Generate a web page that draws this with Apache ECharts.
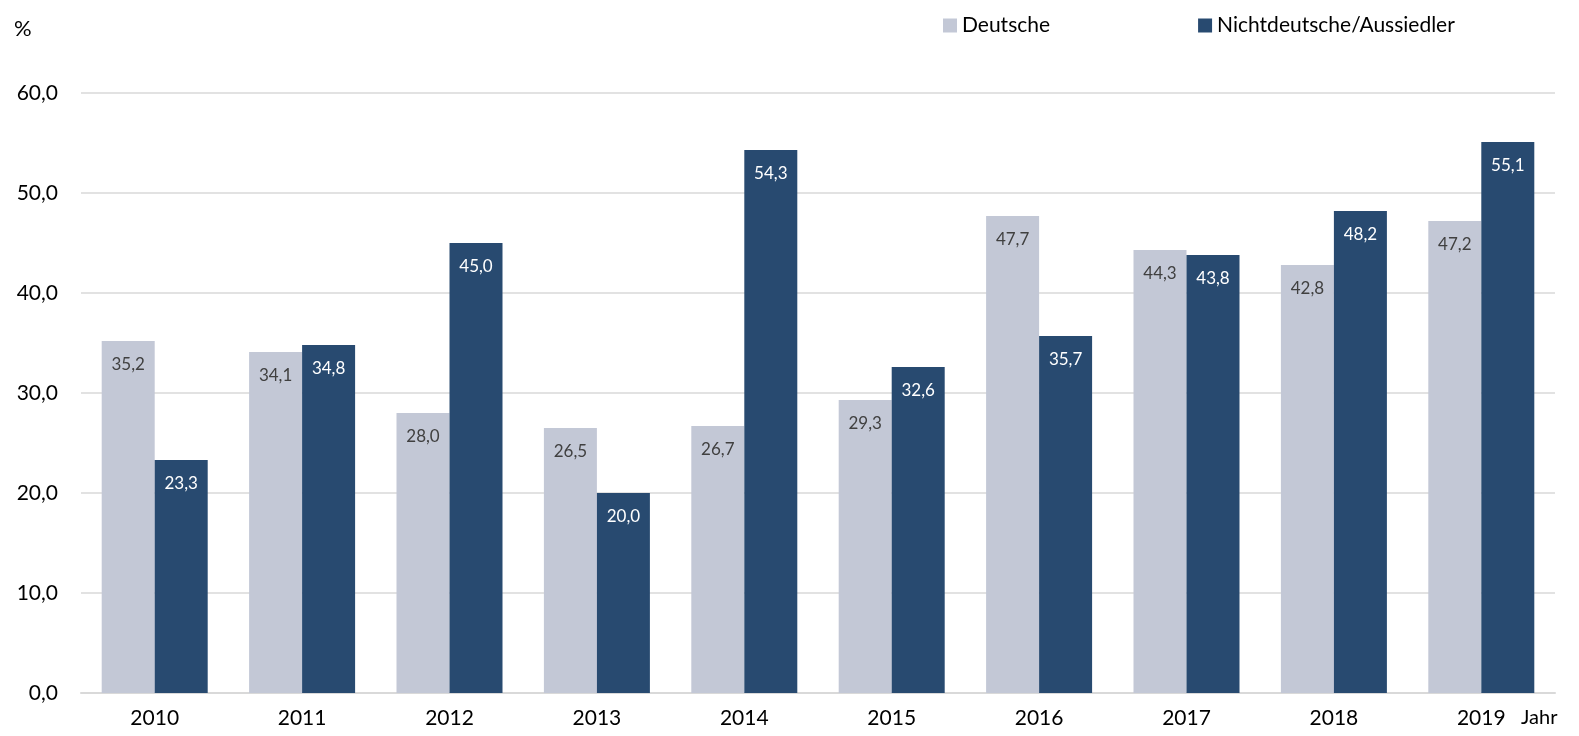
<!DOCTYPE html>
<html>
<head>
<meta charset="utf-8">
<script src="https://cdn.jsdelivr.net/npm/echarts@6/dist/echarts.min.js"></script>
<style>
  html, body { margin: 0; padding: 0; background: #fff; }
  #chart { width: 1579px; height: 736px; }
</style>
</head>
<body>
<div id="chart"></div>
<script>
var years = ['2010', '2011', '2012', '2013', '2014', '2015', '2016', '2017', '2018', '2019']
var deutsche = [35.2, 34.1, 28.0, 26.5, 26.7, 29.3, 47.7, 44.3, 42.8, 47.2]
var nichtdeutsche = [23.3, 34.8, 45.0, 20.0, 54.3, 32.6, 35.7, 43.8, 48.2, 55.1]

var fontFamily = 'Lato, "Open Sans", sans-serif'

function fmt(v) {
  return Number(v).toFixed(1).replace('.', ',')
}

var chart = echarts.init(document.getElementById('chart'))
chart.setOption({
  animation: false,
  textStyle: { fontFamily: fontFamily },
  grid: { left: 81, right: 24, top: 93, bottom: 43, containLabel: false },
  legend: {
    left: 938,
    top: 10,
    itemWidth: 14,
    itemHeight: 14,
    itemGap: 148,
    icon: 'rect',
    textStyle: { fontSize: 21, color: '#000', fontFamily: fontFamily },
    data: ['Deutsche', 'Nichtdeutsche/Aussiedler']
  },
  graphic: [
    { type: 'text', left: 14, top: 18, style: { text: '%', fontSize: 22, fill: '#000', fontFamily: fontFamily } },
    { type: 'text', left: 1521, top: 708, style: { text: 'Jahr', fontSize: 20, fill: '#000', fontFamily: fontFamily } }
  ],
  xAxis: {
    type: 'category',
    data: years,
    axisTick: { show: false },
    axisLine: { lineStyle: { color: '#d9d9d9', width: 2 } },
    axisLabel: { fontSize: 21, color: '#000', margin: 15 }
  },
  yAxis: {
    type: 'value',
    min: 0,
    max: 60,
    interval: 10,
    axisLine: { show: false },
    axisTick: { show: false },
    splitLine: { lineStyle: { color: '#d9d9d9', width: 1.5 } },
    axisLabel: { fontSize: 21, color: '#000', margin: 23, formatter: fmt }
  },
  series: [
    {
      name: 'Deutsche',
      type: 'bar',
      data: deutsche,
      barWidth: 53,
      barGap: '0%',
      itemStyle: { color: '#c3c8d6' },
      label: { show: true, position: 'insideTop', distance: 15, fontSize: 17, color: '#404040', formatter: function (p) { return fmt(p.value) } }
    },
    {
      name: 'Nichtdeutsche/Aussiedler',
      type: 'bar',
      data: nichtdeutsche,
      barWidth: 53,
      barGap: '0%',
      itemStyle: { color: '#284a70' },
      label: { show: true, position: 'insideTop', distance: 15, fontSize: 17, color: '#fff', formatter: function (p) { return fmt(p.value) } }
    }
  ]
})
</script>
</body>
</html>
